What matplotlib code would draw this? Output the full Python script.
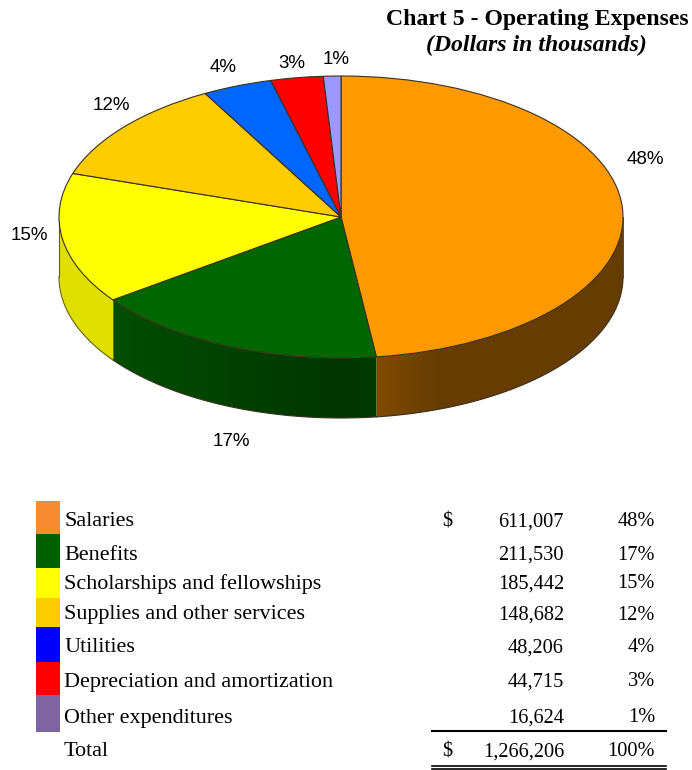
import numpy as np
import matplotlib
matplotlib.use("Agg")
from matplotlib import pyplot as plt
from matplotlib.colors import to_rgb
from matplotlib.path import Path

categories = ['Salaries', 'Benefits', 'Scholarships and fellowships',
              'Supplies and other services', 'Utilities',
              'Depreciation and amortization', 'Other expenditures']
amount_labels = ['611,007', '211,530', '185,442', '148,682', '48,206', '44,715', '16,624']
pcts = [48, 17, 15, 12, 4, 3, 1]
total_label = '1,266,206'
total_pct = '100%'

pie_colors = ['#FF9900', '#006600', '#FFFF00', '#FFCC00', '#0066FF', '#FF0000', '#9999FF']
wall_colors = ['#663C00', '#004000', '#E0E000', '#A08000', '#004099', '#990000', '#606099']
swatch_colors = ['#F68B2F', '#006100', '#FFFF00', '#FFCC00', '#0000FF', '#FF0000', '#8064A2']

# where the percent labels sit, in pixels
label_x = [645, 231, 29, 111, 223, 292, 336]
label_y = [160, 441, 235, 106, 68, 64, 60]

# table rows, in pixels
row_y = [522, 555, 584, 615, 648, 682, 718]
swatch_edges = [501, 534, 568, 598, 627, 662, 695, 732]

cx, cy = 341, 217
rx, ry = 282, 141
depth = 60 / ry
edge = '#3a3020'

fig = plt.figure(figsize=(6.92, 7.7), dpi=100)

# pie axes: radius 1 is rx pixels across and ry pixels down
ax = fig.add_axes([0, 0, 1, 1])
ax.pie(pcts, colors=pie_colors, startangle=90, counterclock=False,
       wedgeprops={'edgecolor': edge, 'linewidth': 0.8, 'zorder': 5})
ax.set_aspect('auto')
xlim = (-cx / rx, (692 - cx) / rx)
ylim = ((cy - 770) / ry, cy / ry)
ax.set_frame_on(False)

# side wall, only the part facing us
stops = np.concatenate([[0], np.cumsum(pcts)]) / sum(pcts) * 2 * np.pi
for i in range(len(pcts)):
    a0 = max(stops[i], np.pi / 2)
    a1 = min(stops[i + 1], 3 * np.pi / 2)
    if a1 <= a0:
        continue
    t = np.linspace(a0, a1, 120)
    x = np.sin(t)
    y = np.cos(t)
    base = np.array(to_rgb(wall_colors[i]))
    if i == 2:
        ax.fill_between(x, y, y - depth, color=base, lw=0, zorder=2)
    else:
        # gradient across x, cut to the shape of the wall
        xs = np.linspace(x.min(), x.max(), 200)
        if i == 0:
            shade = 1 + 0.4 * np.clip(1 - xs / 0.35, 0, 1)
        else:
            shade = 0.85 + 0.45 * np.abs(xs)
        rgb = np.clip(base[None, :] * shade[:, None], 0, 1)[None, :, :]
        im = ax.imshow(rgb, extent=(xs[0], xs[-1], y.min() - depth, y.max()),
                       aspect='auto', origin='lower', zorder=2)
        outline = np.vstack([np.column_stack([x, y]),
                             np.column_stack([x[::-1], y[::-1] - depth])])
        im.set_clip_path(Path(outline), transform=ax.transData)
    line = '#6b6000' if i == 2 else edge
    ax.plot(x, y - depth, color=line, lw=0.8, zorder=3)
    if i == 0:
        ax.plot([x[0], x[0]], [y[0], y[0] - depth], color=edge, lw=0.6, zorder=3)
    if i == 2:
        ax.plot([x[-1], x[-1]], [y[-1], y[-1] - depth], color=line, lw=0.8, zorder=3)
ax.set_xlim(xlim)
ax.set_ylim(ylim)

# overlay in pixel units for the texts and the table
tx = fig.add_axes([0, 0, 1, 1])
tx.set_xlim(0, 692)
tx.set_ylim(770, 0)
tx.axis('off')
tx.patch.set_alpha(0)

serif = 'Liberation Serif'
sans = 'Liberation Sans'
name_size = 15.9
num_size = 14.7

tx.text(689, 20, 'Chart 5 - Operating Expenses', family=serif, weight='bold',
        fontsize=17.1, ha='right', va='center')
tx.text(536, 45, '(Dollars in thousands)', family=serif, weight='bold', style='italic',
        fontsize=17.1, ha='center', va='center')

for lx, ly, p in zip(label_x, label_y, pcts):
    tx.text(lx, ly, f'{p}%', family=sans, fontsize=13.5, ha='center', va='center')

for i, name in enumerate(categories):
    tx.fill_between([36, 60], swatch_edges[i], swatch_edges[i + 1], color=swatch_colors[i], lw=0)
    tx.text(64, row_y[i], name, family=serif, fontsize=name_size, ha='left', va='center')
    tx.text(564, row_y[i], amount_labels[i], family=serif, fontsize=num_size, ha='right', va='center')
    tx.text(655, row_y[i], f'{pcts[i]}%', family=serif, fontsize=num_size, ha='right', va='center')

tx.text(447, row_y[0], '$', family=serif, fontsize=num_size, ha='center', va='center')
tx.text(64, 752, 'Total', family=serif, fontsize=name_size, ha='left', va='center')
tx.text(447, 752, '$', family=serif, fontsize=num_size, ha='center', va='center')
tx.text(564, 752, total_label, family=serif, fontsize=num_size, ha='right', va='center')
tx.text(655, 752, total_pct, family=serif, fontsize=num_size, ha='right', va='center')

tx.plot([432, 666], [730.5, 730.5], color='black', lw=1.5)
tx.plot([432, 666], [766, 766], color='black', lw=1.2)
tx.plot([432, 666], [769, 769], color='black', lw=1.2)

fig.savefig('out.png', dpi=100)
